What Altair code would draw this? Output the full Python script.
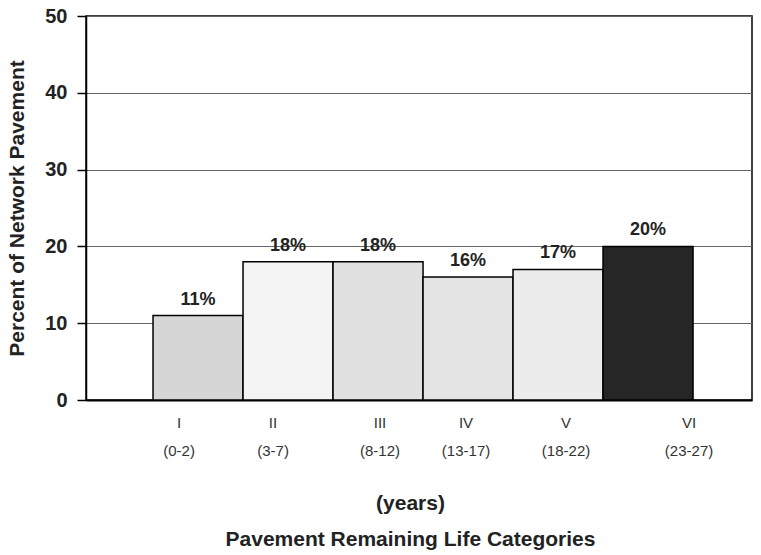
import altair as alt
import pandas as pd

categories = ["I", "II", "III", "IV", "V", "VI"]
year_ranges = ["(0-2)", "(3-7)", "(8-12)", "(13-17)", "(18-22)", "(23-27)"]
percents = [11, 18, 18, 16, 17, 20]
fills = ["#d6d6d6", "#f4f4f4", "#e1e1e1", "#e4e4e4", "#ececec", "#262626"]
y_ticks = [0, 10, 20, 30, 40, 50]

df = pd.DataFrame({
    "cat": [f"{c}|{r}" for c, r in zip(categories, year_ranges)],
    "pct": percents,
    "label": [f"{p}%" for p in percents],
    "fill": fills,
})

FONT = "Liberation Sans"
order = list(df["cat"])

label_shift = ("indexof(datum.value,'VI|')==0 ? 41 : indexof(datum.value,'V|')==0 ? 8 : "
               "indexof(datum.value,'IV|')==0 ? -2 : indexof(datum.value,'III|')==0 ? 2 : "
               "indexof(datum.value,'II|')==0 ? -15 : -19")

x = alt.X(
    "cat:N", sort=order,
    title=["(years)", "Pavement Remaining Life Categories"],
    scale=alt.Scale(paddingInner=0, paddingOuter=0.7, align=0.532),
    axis=alt.Axis(
        labelExpr="split(datum.value, '|')", labelAngle=0, ticks=False,
        labelPadding=15, labelFontSize=15, labelColor="#333", labelFont=FONT,
        labelLineHeight=28, labelOffset=alt.ExprRef(label_shift),
        grid=False, domainColor="black", domainWidth=2,
        titleFont=FONT, titleFontSize=21, titleFontWeight="bold", titleColor="#222",
        titleLineHeight=36, titleBaseline="top", titleY=92, titleX=324,
    ),
)

y = alt.Y(
    "pct:Q", title="Percent of Network Pavement",
    scale=alt.Scale(domain=[0, 50], nice=False),
    axis=alt.Axis(
        values=y_ticks, labelFont=FONT, labelFontSize=20, labelFontWeight="bold",
        labelColor="#222", labelPadding=10, tickSize=9, tickColor="black", tickWidth=1.5,
        domainColor="black", domainWidth=1.5, gridColor="#666", gridWidth=1,
        titleFont=FONT, titleFontSize=21, titleFontWeight="bold", titleColor="#222",
        titleX=-69, titleBaseline="middle",
    ),
)

bars = alt.Chart(df).mark_bar(stroke="black", strokeWidth=1.5).encode(
    x=x, y=y, fill=alt.Fill("fill:N", scale=None)
)

texts = alt.Chart(df).mark_text(
    baseline="alphabetic", dy=-11, font=FONT, fontSize=18, fontWeight="bold", color="#222"
).encode(x=alt.X("cat:N", sort=order), y="pct:Q", text="label:N")

chart = alt.layer(bars, texts).properties(
    width=666, height=384,
    padding={"left": 78, "top": 8, "right": 1, "bottom": 155},
    autosize=alt.AutoSizeParams(type="none"),
    background="white",
).configure_view(stroke="black", strokeWidth=1.5)

chart.save("out.html", embed_options={"renderer": "svg", "actions": False})
